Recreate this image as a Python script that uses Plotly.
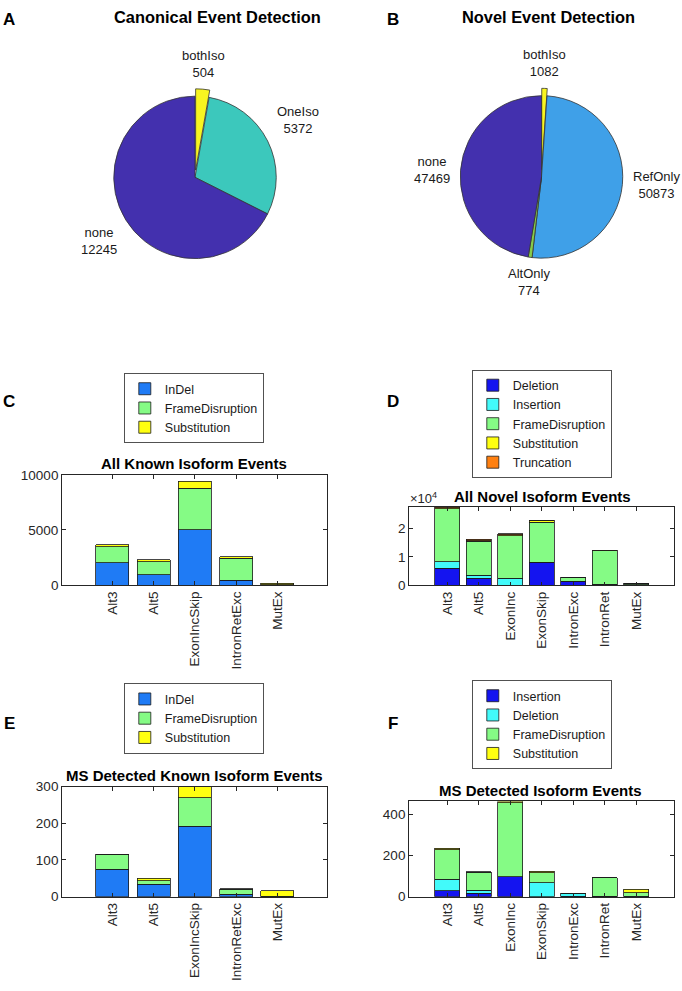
import math
import plotly.graph_objects as go

W, H = 682, 991
FONT = "Liberation Sans, Arial, Helvetica, sans-serif"
AX = "#262626"

# ---------------- data ----------------
# Panel A: Canonical Event Detection
a_labels = ["bothIso", "OneIso", "none"]
a_values = [504, 5372, 12245]
a_colors = ["#F8F520", "#3CC8BC", "#4330AE"]

# Panel B: Novel Event Detection
b_labels = ["bothIso", "RefOnly", "AltOnly", "none"]
b_values = [1082, 50873, 774, 47469]
b_colors = ["#F8F520", "#3FA0E8", "#86CC4A", "#4330AE"]

# Panel C: All Known Isoform Events
c_cats = ["Alt3", "Alt5", "ExonIncSkip", "IntronRetExc", "MutEx"]
c_indel = [2040, 925, 5020, 420, 15]
c_frame = [1435, 1205, 3750, 2030, 25]
c_subst = [180, 180, 630, 130, 120]

# Panel D: All Novel Isoform Events
d_cats = ["Alt3", "Alt5", "ExonInc", "ExonSkip", "IntronExc", "IntronRet", "MutEx"]
d_deletion = [5970, 2500, 100, 8030, 1300, 300, 100]
d_insertion = [2310, 1000, 2400, 100, 80, 50, 50]
d_frame = [18620, 12000, 14950, 13940, 1380, 11850, 600]
d_subst = [300, 200, 300, 700, 60, 30, 50]
d_trunc = [400, 400, 350, 100, 100, 50, 0]

# Panel E: MS Detected Known Isoform Events
e_cats = ["Alt3", "Alt5", "ExonIncSkip", "IntronRetExc", "MutEx"]
e_indel = [75, 34, 192, 6, 0]
e_frame = [40, 10, 78, 14, 1]
e_subst = [1, 6, 35, 1, 15]

# Panel F: MS Detected Isoform Events
f_cats = ["Alt3", "Alt5", "ExonInc", "ExonSkip", "IntronExc", "IntronRet", "MutEx"]
f_insertion = [29, 16, 96, 0, 3, 1, 0]
f_deletion = [56, 14, 0, 67, 10, 1, 3]
f_frame = [143, 88, 360, 48, 4, 89, 17]
f_subst = [7, 3, 6, 8, 0, 0, 16]

# colours
COL_INDEL = "#1F7BF5"
COL_BLUE = "#1414F0"
COL_CYAN = "#42FAFA"
COL_GREEN = "#85FB85"
COL_YELLOW = "#FFFF10"
COL_ORANGE = "#FF8010"

# ---------------- layout helpers (arguments are page pixels) ----------------
def px(x):
    return x / W

def py(y):
    return 1 - y / H

def xd(x0, x1):
    return [px(x0), px(x1)]

def yd(top, bottom):
    return [py(bottom), py(top)]

fig = go.Figure()
ann = []

# ---------------- pies ----------------
PULL = 0.09
R = 82.5
side = 2 * R * (1 + PULL)

def pie(labels, values, colors, cx, cy):
    pulls = [PULL if l == "bothIso" else 0 for l in labels]
    fig.add_trace(go.Pie(
        labels=labels, values=values, sort=False, direction="clockwise", rotation=0,
        pull=pulls, marker=dict(colors=colors, line=dict(color="#333333", width=0.8)),
        textinfo="none", hoverinfo="label+value", showlegend=False,
        domain=dict(x=xd(cx - side / 2, cx + side / 2), y=yd(cy - side / 2, cy + side / 2)),
    ))
    # MATLAB-style labels: placed at 1.1 R (+ explode) along each slice's mid-angle
    total = sum(values)
    cum = 0
    for lab, v, p in zip(labels, values, pulls):
        mid = (cum + v / 2) / total * 2 * math.pi
        cum += v
        dx, dy = math.sin(mid), math.cos(mid)
        dist = R * (1.1 + p)
        xa = "left" if dx > 0.3 else ("right" if dx < -0.3 else "center")
        ya = "bottom" if dy > 0.3 else ("top" if dy < -0.3 else "middle")
        ann.append(dict(x=px(cx + dx * dist), y=py(cy - dy * dist), xref="paper", yref="paper",
                        text=f"{lab}<br>{v}", showarrow=False, xanchor=xa, yanchor=ya,
                        align="center", borderpad=0,
                        font=dict(family=FONT, size=13, color="#1a1a1a")))

pie(a_labels, a_values, a_colors, 195, 173)
pie(b_labels, b_values, b_colors, 541.5, 172.5)

# ---------------- bars ----------------
def bars(cats, series, axn, legend):
    xa = "x" if axn == 1 else f"x{axn}"
    ya = "y" if axn == 1 else f"y{axn}"
    for name, vals, col in series:
        fig.add_trace(go.Bar(
            x=cats, y=vals, name=name, width=0.8,
            marker=dict(color=col, line=dict(color="#1a1a1a", width=0.8)),
            xaxis=xa, yaxis=ya, legend=legend,
        ))

bars(c_cats, [("InDel", c_indel, COL_INDEL), ("FrameDisruption", c_frame, COL_GREEN),
              ("Substitution", c_subst, COL_YELLOW)], 1, "legend")
bars(d_cats, [("Deletion", d_deletion, COL_BLUE), ("Insertion", d_insertion, COL_CYAN),
              ("FrameDisruption", d_frame, COL_GREEN), ("Substitution", d_subst, COL_YELLOW),
              ("Truncation", d_trunc, COL_ORANGE)], 2, "legend2")
bars(e_cats, [("InDel", e_indel, COL_INDEL), ("FrameDisruption", e_frame, COL_GREEN),
              ("Substitution", e_subst, COL_YELLOW)], 3, "legend3")
bars(f_cats, [("Insertion", f_insertion, COL_BLUE), ("Deletion", f_deletion, COL_CYAN),
              ("FrameDisruption", f_frame, COL_GREEN), ("Substitution", f_subst, COL_YELLOW)],
     4, "legend4")

def xaxis(dom, n, anchor):
    return dict(domain=dom, anchor=anchor, range=[-1.22, n - 1 + 1.2], type="category",
                tickangle=-90, ticks="inside", ticklen=4, tickcolor=AX, tickwidth=0.8,
                showline=True, linecolor=AX, linewidth=0.8, mirror="ticks",
                showgrid=False, zeroline=False,
                tickfont=dict(family=FONT, size=13.5, color=AX))

def yaxis(dom, rng, tickvals, ticktext, anchor):
    return dict(domain=dom, anchor=anchor, range=rng, tickvals=tickvals, ticktext=ticktext,
                ticks="inside", ticklen=4, tickcolor=AX, tickwidth=0.8,
                showline=True, linecolor=AX, linewidth=0.8, mirror="ticks",
                showgrid=False, zeroline=False,
                tickfont=dict(family=FONT, size=13.5, color=AX))

LX = xd(62, 327)
RX = xd(409, 674)
fig.update_layout(
    xaxis=xaxis(LX, len(c_cats), "y"),
    yaxis=yaxis(yd(475, 587), [0, 10000], [0, 5000, 10000], ["0", "5000", "10000"], "x"),
    xaxis2=xaxis(RX, len(d_cats), "y2"),
    yaxis2=yaxis(yd(507.3, 587.3), [0, 27600], [0, 10000, 20000], ["0", "1", "2"], "x2"),
    xaxis3=xaxis(LX, len(e_cats), "y3"),
    yaxis3=yaxis(yd(791.7, 903.3), [0, 300], [0, 100, 200, 300], ["0", "100", "200", "300"], "x3"),
    xaxis4=xaxis(RX, len(f_cats), "y4"),
    yaxis4=yaxis(yd(806.7, 903.3), [0, 462], [0, 200, 400], ["0", "200", "400"], "x4"),
)

def legend(cx, bottom):
    return dict(x=px(cx), xanchor="center", y=py(bottom), yanchor="bottom",
                bordercolor=AX, borderwidth=0.8, bgcolor="white", traceorder="normal",
                font=dict(family=FONT, size=12.5, color="#1a1a1a"), tracegroupgap=0,
                itemclick=False, itemdoubleclick=False)

fig.update_layout(
    legend=legend(194, 443),
    legend2=legend(542, 478),
    legend3=legend(194, 758),
    legend4=legend(542, 774),
)

# ---------------- text ----------------
def text(x, y, s, size, bold=True, xanchor="center"):
    ann.append(dict(x=px(x), y=py(y), xref="paper", yref="paper",
                    text=f"<b>{s}</b>" if bold else s,
                    showarrow=False, xanchor=xanchor, yanchor="middle",
                    font=dict(family=FONT, size=size, color="#000000")))

text(217, 10, "Canonical Event Detection", 16.4)
text(548, 10, "Novel Event Detection", 16.4)
text(194, 464, "All Known Isoform Events", 15)
text(542, 497, "All Novel Isoform Events", 15)
text(194, 780, "MS Detected Known Isoform Events", 15)
text(540, 796, "MS Detected Isoform Events", 15)
for lx, ly, s in [(9, 13, "A"), (393, 13, "B"), (9, 401, "C"), (393, 401, "D"),
                  (9, 728, "E"), (393, 728, "F")]:
    text(lx, ly, s, 17)
ann.append(dict(x=px(408), y=py(499), xref="paper", yref="paper", text="×10<sup>4</sup>",
                showarrow=False, xanchor="left", yanchor="middle",
                font=dict(family=FONT, size=13, color=AX)))

fig.update_layout(
    annotations=ann, barmode="stack", width=W, height=H,
    margin=dict(l=0, r=0, t=0, b=0), paper_bgcolor="white", plot_bgcolor="white",
    font=dict(family=FONT, color=AX), bargap=0.2, hovermode=False,
)

# remove the default 8px page margin so the 682x991 figure fills the window exactly
fig.write_html("out.html", config={"displayModeBar": False},
               post_script="document.body.style.margin='0px';")
